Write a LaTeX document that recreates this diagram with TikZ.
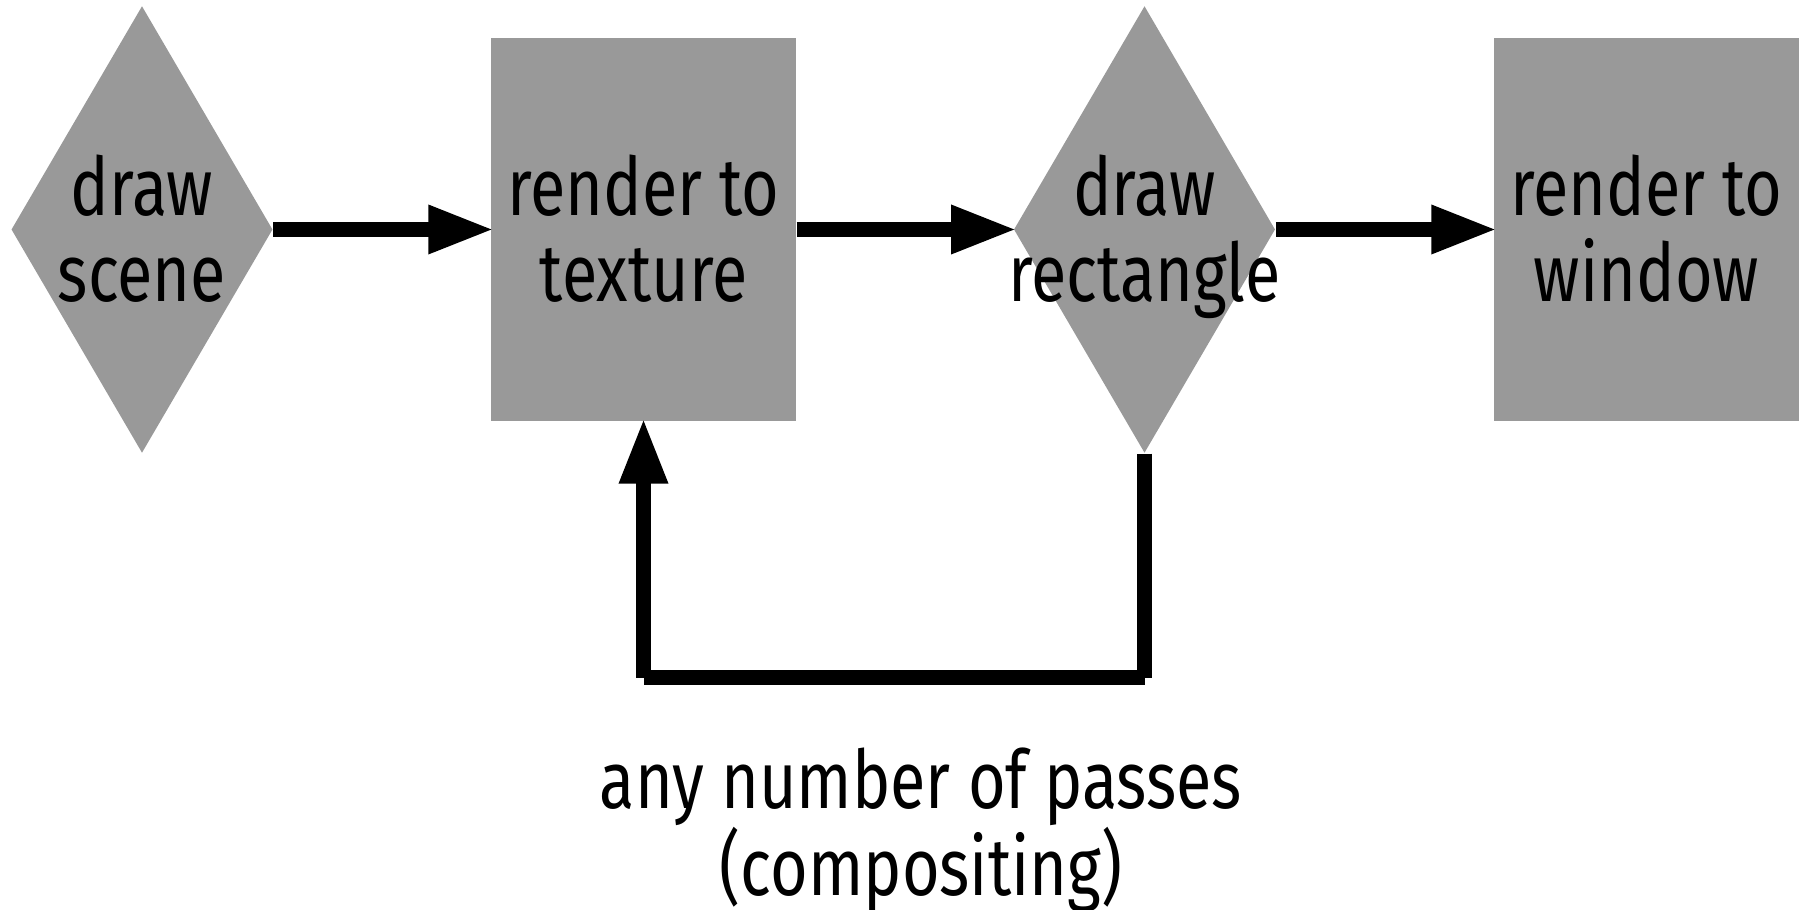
\documentclass[tikz,border=0pt]{standalone}
\usepackage{fontspec}
\setmainfont[FakeStretch=0.8]{Fira Sans}
\usepackage{tikz}
\usetikzlibrary{positioning,arrows.meta,shapes.geometric}
\definecolor{boxgray}{RGB}{153,153,153}

\begin{document}
\begin{tikzpicture}[
        decision/.style={diamond, fill=boxgray, inner sep=0pt, minimum width=2.615cm, minimum height=4.47cm},
        stage/.style={rectangle, fill=boxgray, inner sep=0pt, minimum width=3.05cm, minimum height=3.83cm},
        caption/.style={align=center, inner sep=0pt, text height=1.45cm, text depth=0pt, font=\fontsize{23}{24.5}\selectfont},
        flow/.style={line width=0.15cm, shorten >=-0.04cm, -{Triangle[length=0.66cm, width=0.45cm]}},
        loop/.style={line width=0.15cm}
    ]
    \useasboundingbox (0,0) rectangle (17.99,-9.10);

    % Stages
    \node[decision] (scene) at (1.42,-2.295) {};
    \node[caption] (sceneText) at (scene) {draw\\scene};
    \node[stage, caption] (texture) at (6.435,-2.295) {render to\\texture};
    \node[decision] (rect) at (11.445,-2.295) {};
    \node[caption] (rectText) at (rect) {draw\\rectangle};
    \node[stage, caption] (window) at (16.465,-2.295) {render to\\window};

    % Arrows
    \draw[flow] (scene.east) -- (texture.west);
    \draw[flow] (texture.east) -- (rect.west);
    \draw[flow] (rect.east) -- (window.west);

    % Compositing loop
    \coordinate (loopR) at ([yshift=-2.24cm]rect.south);
    \coordinate (loopL) at (texture.south |- loopR);
    \draw[loop] (rect.south) -- (loopR);
    \draw[loop] (loopR) -- (loopL);
    \draw[flow] (loopL) -- (texture.south);

    % Caption below
    \node[caption] (passes) at (9.21,-8.225) {any number of passes\\(compositing)};
\end{tikzpicture}
\end{document}
